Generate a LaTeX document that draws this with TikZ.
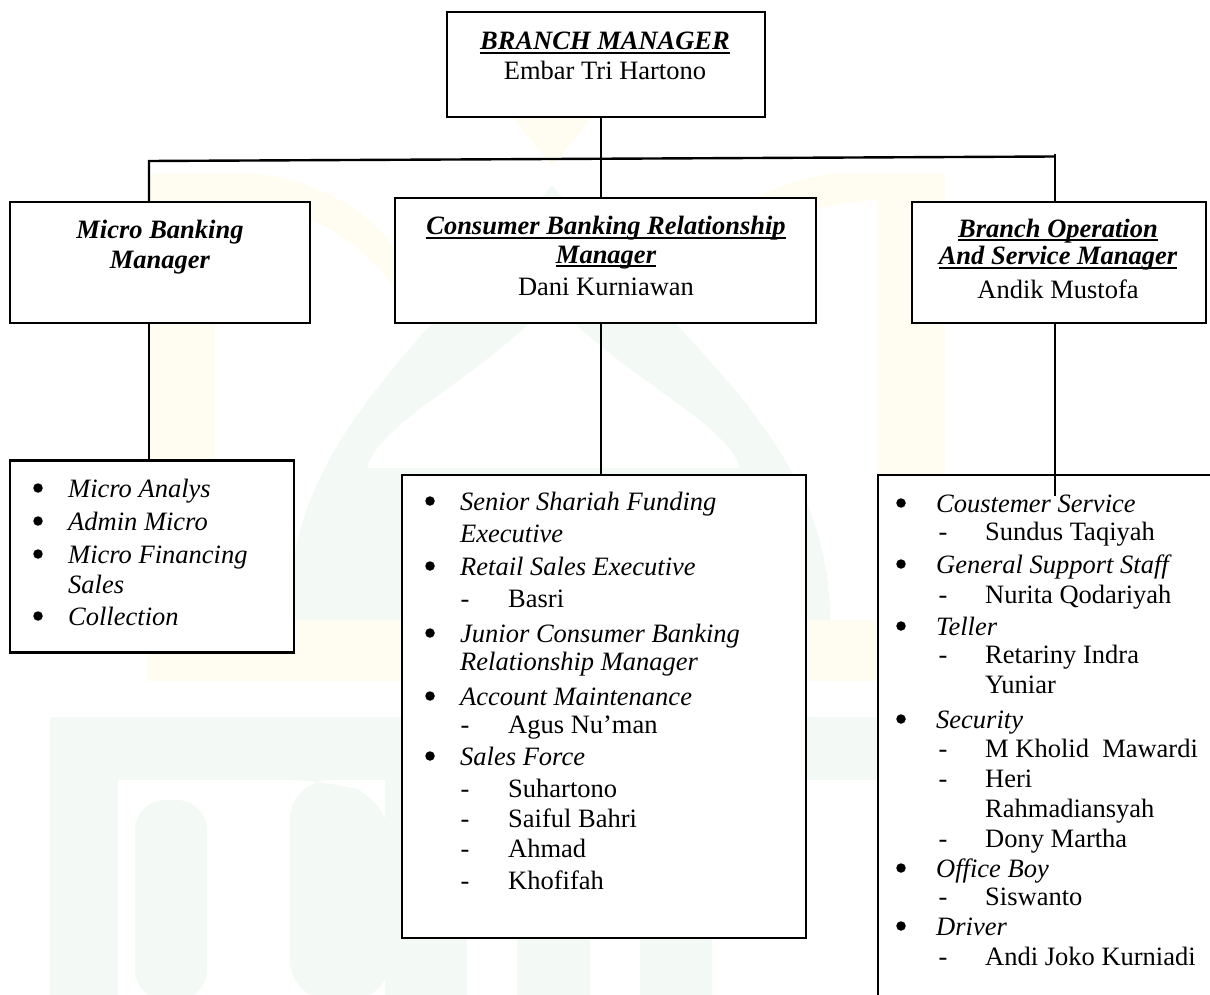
\documentclass[tikz,border=0pt]{standalone}
\usepackage{fontspec}
\setmainfont{Liberation Serif}
\definecolor{wmY}{HTML}{FFFDF1}
\definecolor{wmG}{HTML}{F3F9F4}
\newsavebox\ulbx
\newcommand\wul[1]{\sbox\ulbx{#1}\rlap{\rule[-4pt]{\wd\ulbx}{1.8pt}}\usebox\ulbx}
\tikzset{
  box/.style={draw=black,line width=2.4pt,fill=white,rectangle,inner sep=0pt},
  conn/.style={draw=black,line width=2.4pt},
  txt/.style={inner sep=0pt,font=\fontsize{26.5}{30}\selectfont},
  head/.style={txt,anchor=base},
  headbi/.style={head,font=\fontsize{26.5}{30}\selectfont\bfseries\itshape},
  item/.style={txt,anchor=base west,font=\fontsize{26.5}{30}\selectfont\itshape},
  pname/.style={txt,anchor=base west},
  bul/.style={txt,anchor=base},
  dot/.style={circle,fill=black,inner sep=0pt,minimum size=9.5pt}
}
% bullet item: name, bullet x, text x, baseline y, text
\newcommand\itm[5]{\node[dot] (#1-b) at (#2,#4-9) {}; \node[item] (#1) at (#3,#4) {#5};}
% italic continuation line
\newcommand\cnt[4]{\node[item] (#1) at (#2,#3) {#4};}
% dash item: name, dash x, text x, baseline y, text
\newcommand\sbi[5]{\node[bul] (#1-d) at (#2,#4) {-}; \node[pname] (#1) at (#3,#4) {#5};}
% plain continuation line
\newcommand\ncnt[4]{\node[pname] (#1) at (#2,#3) {#4};}
\begin{document}
\begin{tikzpicture}[x=1pt,y=-1pt]
\useasboundingbox (0,0) rectangle (1210,995);
\begin{scope}
\clip (0,0) rectangle (1210,995);
% ---- faint watermark ----
\fill[wmY] (147,174) rectangle (215,681);
\fill[wmY] (877,174) rectangle (945,681);
\fill[wmY] (147,620) rectangle (945,681);
\fill[wmY] (507,110) -- (597,110) -- (553,167) -- cycle;
\fill[wmY] (215,174) -- (260,174) .. controls (320,182) and (370,210) .. (400,255) -- (395,290) .. controls (360,235) and (300,205) .. (215,200) -- cycle;
\fill[wmY] (877,174) -- (832,174) .. controls (772,182) and (722,210) .. (692,255) -- (697,290) .. controls (732,235) and (792,205) .. (877,200) -- cycle;
\fill[wmG,even odd rule] (288,620) .. controls (288,440) and (420,350) .. (552,185) .. controls (684,350) and (830,440) .. (830,620) -- cycle
  (367,468) .. controls (380,420) and (480,380) .. (552,300) .. controls (624,380) and (725,420) .. (740,468) -- cycle;
\fill[wmG] (50,717) rectangle (877,780);
\fill[wmG] (50,717) rectangle (118,1000);
\fill[wmG,rounded corners=30pt] (135,1000) -- (135,800) -- (207,800) -- (207,1000) -- cycle;
\fill[wmG,rounded corners=40pt] (290,1000) -- (290,780) -- (330,780) -- (390,800) -- (390,1000) -- cycle;
\fill[wmG] (385,717) rectangle (467,1000);
\fill[wmG] (517,780) rectangle (590,1000);
\fill[wmG] (640,780) rectangle (712,1000);
% ---- boxes ----
\node[box,minimum width=318pt,minimum height=105pt] (bm) at (606,64.5) {};
\node[box,minimum width=300pt,minimum height=121pt] (mb) at (160,262.5) {};
\node[box,minimum width=421pt,minimum height=125pt] (cb) at (605.5,260.5) {};
\node[box,minimum width=294pt,minimum height=121pt] (bo) at (1059,262.5) {};
\node[box,minimum width=284pt,minimum height=192pt] (ml) at (152,556.5) {};
\node[box,minimum width=404pt,minimum height=463pt] (cl) at (604,706.5) {};
\node[box,minimum width=360pt,minimum height=540pt,anchor=north west] (bl) at (877,474) {};
% ---- connectors ----
\coordinate (jc) at (601,159);
\coordinate (jl) at (149,161);
\coordinate (jr) at (1055,156.5);
\coordinate (jrt) at (1055,154.5);
\coordinate (tail) at (1055,496);
\draw[conn] (mb.north -| jl) -- (jl) -- (jr);
\draw[conn] (bm.south -| jc) -- (cb.north -| jc);
\draw[conn] (jrt) -- (bo.north -| jr);
\draw[conn] (mb.south -| jl) -- (ml.north -| jl);
\draw[conn] (cb.south -| jc) -- (cl.north -| jc);
\draw[conn] (bo.south -| jr) -- (tail);
\end{scope}
% ---- headings ----
\node[headbi] (t1) at (605,50) {\wul{BRANCH MANAGER}};
\node[head] (t2) at (605,80) {Embar Tri Hartono};
\node[headbi] (t3) at (160,238) {Micro Banking};
\node[headbi] (t4) at (160,268) {Manager};
\node[headbi] (t5) at (606,235) {\wul{Consumer Banking Relationship}};
\node[headbi] (t6) at (606,263) {\wul{Manager}};
\node[head] (t7) at (606,295) {Dani Kurniawan};
\node[headbi] (t8) at (1058,237) {\wul{Branch Operation}};
\node[headbi] (t9) at (1058,265) {\wul{And Service Manager}};
\node[head] (t10) at (1058,298) {Andik Mustofa};
% ---- micro list ----
\itm{m1}{38}{68}{497}{Micro Analys}
\itm{m2}{38}{68}{530}{Admin Micro}
\itm{m3}{38}{68}{563}{Micro Financing}
\cnt{m4}{68}{593}{Sales}
\itm{m5}{38}{68}{625}{Collection}
% ---- consumer list ----
\itm{c1}{430}{460}{510}{Senior Shariah Funding}
\cnt{c2}{460}{542}{Executive}
\itm{c3}{430}{460}{575}{Retail Sales Executive}
\sbi{c4}{465}{508}{607}{Basri}
\itm{c5}{430}{460}{642}{Junior Consumer Banking}
\cnt{c6}{460}{670}{Relationship Manager}
\itm{c7}{430}{460}{705}{Account Maintenance}
\sbi{c8}{465}{508}{733}{Agus Nu’man}
\itm{c9}{430}{460}{765}{Sales Force}
\sbi{c10}{465}{508}{797}{Suhartono}
\sbi{c11}{465}{508}{827}{Saiful Bahri}
\sbi{c12}{465}{508}{857}{Ahmad}
\sbi{c13}{465}{508}{889}{Khofifah}
% ---- operation list ----
\itm{o1}{901}{936}{512}{Coustemer Service}
\sbi{o2}{943}{985}{540}{Sundus Taqiyah}
\itm{o3}{901}{936}{573}{General Support Staff}
\sbi{o4}{943}{985}{603}{Nurita Qodariyah}
\itm{o5}{901}{936}{635}{Teller}
\sbi{o6}{943}{985}{663}{Retariny Indra}
\ncnt{o7}{985}{693}{Yuniar}
\itm{o8}{901}{936}{728}{Security}
\sbi{o9}{943}{985}{757}{M Kholid\ \ Mawardi}
\sbi{o10}{943}{985}{787}{Heri}
\ncnt{o11}{985}{817}{Rahmadiansyah}
\sbi{o12}{943}{985}{847}{Dony Martha}
\itm{o13}{901}{936}{877}{Office Boy}
\sbi{o14}{943}{985}{905}{Siswanto}
\itm{o15}{901}{936}{935}{Driver}
\sbi{o16}{943}{985}{965}{Andi Joko Kurniadi}
\end{tikzpicture}
\end{document}
